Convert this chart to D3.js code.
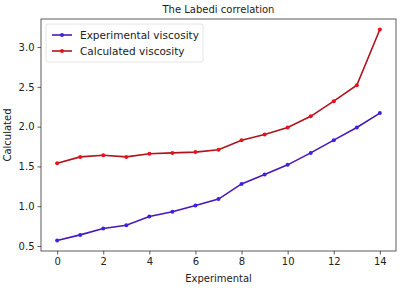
<!DOCTYPE html>
<html>
<head>
<meta charset="utf-8">
<script src="https://cdn.jsdelivr.net/npm/d3@7"></script>
<style>
	body { margin: 0; background: #fff; }
	text { font-family: "DejaVu Sans", sans-serif; fill: #222; }
</style>
</head>
<body>
<div id="chart"></div>
<script>
// Data
const xValues = [0, 1, 2, 3, 4, 5, 6, 7, 8, 9, 10, 11, 12, 13, 14]
const experimental = [0.57, 0.64, 0.72, 0.76, 0.87, 0.93, 1.01, 1.09, 1.28, 1.40, 1.52, 1.67, 1.83, 1.99, 2.17]
const calculated = [1.54, 1.62, 1.64, 1.62, 1.66, 1.67, 1.68, 1.71, 1.83, 1.90, 1.99, 2.13, 2.32, 2.52, 3.22]
const xTicks = [0, 2, 4, 6, 8, 10, 12, 14]
const yTicks = [0.5, 1.0, 1.5, 2.0, 2.5, 3.0]

const seriesList = [
	{ label: "Experimental viscosity", values: experimental, line: "#4a17b8", marker: "#3b22e6" },
	{ label: "Calculated viscosity", values: calculated, line: "#b0121e", marker: "#e8121c" },
]

const W = 408
const H = 288
const margin = { top: 19, right: 12, bottom: 37, left: 41 }
const width = W - margin.left - margin.right
const height = H - margin.top - margin.bottom

const svg = d3.select("#chart")
	.append("svg")
	.attr("width", W)
	.attr("height", H)

const g = svg.append("g")
	.attr("transform", `translate(${margin.left},${margin.top})`)

// matplotlib-style 5% padding
const allY = experimental.concat(calculated)
const yMin = d3.min(allY), yMax = d3.max(allY)
const yPad = (yMax - yMin) * 0.05

const xScale = d3.scaleLinear().domain([-0.7, 14.7]).range([0, width])
const yScale = d3.scaleLinear().domain([yMin - yPad, yMax + yPad]).range([height, 0])

// Axes
const xAxis = g.append("g")
	.attr("transform", `translate(0,${height})`)
	.call(d3.axisBottom(xScale).tickValues(xTicks).tickFormat(d3.format("d")).tickSize(3.5).tickPadding(3))
const yAxis = g.append("g")
	.call(d3.axisLeft(yScale).tickValues(yTicks).tickFormat(d3.format(".1f")).tickSize(3.5).tickPadding(3))

;[xAxis, yAxis].forEach((ax) => {
	ax.select(".domain").remove()
	ax.selectAll("line").attr("stroke", "#333").attr("stroke-width", 0.8)
	ax.selectAll("text").style("font-size", "10px").attr("fill", "#222")
})

// Frame
g.append("rect")
	.attr("width", width)
	.attr("height", height)
	.attr("fill", "none")
	.attr("stroke", "#333")
	.attr("stroke-width", 0.8)

// Lines
const line = d3.line()
	.x((d, i) => xScale(xValues[i]))
	.y((d) => yScale(d))

seriesList.forEach((s) => {
	g.append("path")
		.datum(s.values)
		.attr("fill", "none")
		.attr("stroke", s.line)
		.attr("stroke-width", 1.6)
		.attr("d", line)

	g.selectAll(null)
		.data(s.values)
		.enter()
		.append("circle")
		.attr("cx", (d, i) => xScale(xValues[i]))
		.attr("cy", (d) => yScale(d))
		.attr("r", 2)
		.attr("fill", s.marker)
})

// Title and labels
svg.append("text")
	.attr("x", margin.left + width / 2)
	.attr("y", 13)
	.attr("text-anchor", "middle")
	.style("font-size", "10px")
	.text("The Labedi correlation")

svg.append("text")
	.attr("x", margin.left + width / 2)
	.attr("y", 282)
	.attr("text-anchor", "middle")
	.style("font-size", "10px")
	.text("Experimental")

svg.append("text")
	.attr("transform", `translate(11,${margin.top + height / 2}) rotate(-90)`)
	.attr("text-anchor", "middle")
	.style("font-size", "10px")
	.text("Calculated")

// Legend
const legend = g.append("g").attr("transform", "translate(5,5)")
legend.append("rect")
	.attr("width", 157)
	.attr("height", 38)
	.attr("rx", 2)
	.attr("fill", "#fff")
	.attr("fill-opacity", 0.8)
	.attr("stroke", "#ddd")
	.attr("stroke-width", 0.8)

seriesList.forEach((s, i) => {
	const row = legend.append("g").attr("transform", `translate(6,${11 + i * 16})`)
	row.append("line")
		.attr("x1", 0)
		.attr("x2", 20)
		.attr("stroke", s.line)
		.attr("stroke-width", 1.6)
	row.append("circle")
		.attr("cx", 10)
		.attr("r", 2)
		.attr("fill", s.marker)
	row.append("text")
		.attr("x", 28)
		.attr("y", 4)
		.style("font-size", "10.5px")
		.text(s.label)
})
</script>
</body>
</html>
